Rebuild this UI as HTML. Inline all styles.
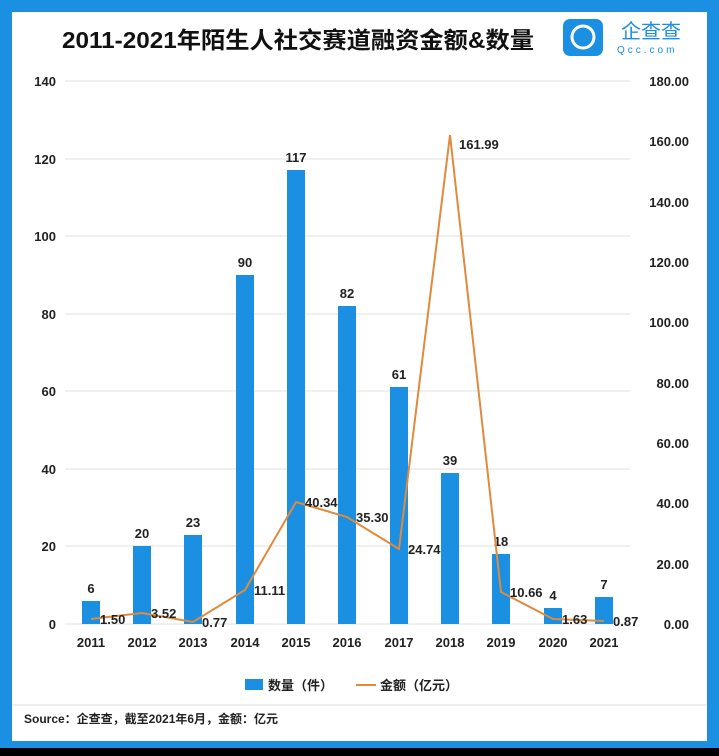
<!DOCTYPE html>
<html><head><meta charset="utf-8"><style>
body{margin:0;width:719px;height:751px;overflow:hidden;background:#000}
svg text{font-family:"Liberation Sans","Noto Sans CJK SC",sans-serif}
</style></head><body>
<svg width="719" height="751" xmlns="http://www.w3.org/2000/svg">
<rect x="0" y="0" width="719" height="748" fill="#1b8fe2"/>
<rect x="12" y="12" width="695" height="729" fill="#fff"/>
<line x1="12" y1="705" x2="707" y2="705" stroke="#ddd"/>
<text x="298" y="48" font-size="23" font-weight="bold" text-anchor="middle" fill="#111" textLength="472" lengthAdjust="spacingAndGlyphs">2011-2021年陌生人社交赛道融资金额&amp;数量</text>
<rect x="563" y="19" width="40" height="37" rx="7" fill="#1b8fe2"/>
<circle cx="583" cy="37" r="11" fill="none" stroke="#fff" stroke-width="3"/>
<text x="621" y="38" font-size="20" fill="#1b8fe2">企查查</text>
<text x="617" y="53" font-size="10" fill="#1b8fe2" letter-spacing="3">Qcc.com</text>
<g stroke="#e2e2e2" stroke-width="1">
<line x1="65" y1="81" x2="630" y2="81"/><line x1="65" y1="159" x2="630" y2="159"/><line x1="65" y1="236" x2="630" y2="236"/><line x1="65" y1="314" x2="630" y2="314"/><line x1="65" y1="391" x2="630" y2="391"/><line x1="65" y1="469" x2="630" y2="469"/><line x1="65" y1="546" x2="630" y2="546"/><line x1="65" y1="624" x2="630" y2="624"/>
</g>
<g font-size="13" font-weight="bold" fill="#222" text-anchor="end">
<text x="56" y="86">140</text><text x="56" y="164">120</text><text x="56" y="241">100</text><text x="56" y="319">80</text><text x="56" y="396">60</text><text x="56" y="474">40</text><text x="56" y="551">20</text><text x="56" y="629">0</text>
</g>
<g font-size="13" font-weight="bold" fill="#222" text-anchor="end">
<text x="689" y="86">180.00</text><text x="689" y="146">160.00</text><text x="689" y="207">140.00</text><text x="689" y="267">120.00</text><text x="689" y="327">100.00</text><text x="689" y="388">80.00</text><text x="689" y="448">60.00</text><text x="689" y="508">40.00</text><text x="689" y="569">20.00</text><text x="689" y="629">0.00</text>
</g>
<g fill="#1b8fe2">
<rect x="82" y="601" width="18" height="23"/>
<rect x="133" y="546" width="18" height="78"/>
<rect x="184" y="535" width="18" height="89"/>
<rect x="236" y="275" width="18" height="349"/>
<rect x="287" y="170" width="18" height="454"/>
<rect x="338" y="306" width="18" height="318"/>
<rect x="390" y="387" width="18" height="237"/>
<rect x="441" y="473" width="18" height="151"/>
<rect x="492" y="554" width="18" height="70"/>
<rect x="544" y="608" width="18" height="16"/>
<rect x="595" y="597" width="18" height="27"/>
</g>
<g font-size="13" font-weight="bold" fill="#222" text-anchor="middle">
<text x="91" y="593">6</text><text x="142" y="538">20</text><text x="193" y="527">23</text><text x="245" y="267">90</text><text x="296" y="162">117</text><text x="347" y="298">82</text><text x="399" y="379">61</text><text x="450" y="465">39</text><text x="501" y="546">18</text><text x="553" y="600">4</text><text x="604" y="589">7</text>
</g>
<polyline fill="none" stroke="#e08a3e" stroke-width="2" points="91,619 142,613 193,622 245,590 296,502 347,517 399,549 450,135 501,592 553,619 604,621"/>
<g font-size="13" font-weight="bold" fill="#222">
<text x="100" y="624">1.50</text><text x="151" y="618">3.52</text><text x="202" y="627">0.77</text><text x="254" y="595">11.11</text><text x="305" y="507">40.34</text><text x="356" y="522">35.30</text><text x="408" y="554">24.74</text><text x="459" y="149">161.99</text><text x="510" y="597">10.66</text><text x="562" y="624">1.63</text><text x="613" y="626">0.87</text>
</g>
<g font-size="13" font-weight="bold" fill="#222" text-anchor="middle">
<text x="91" y="647">2011</text><text x="142" y="647">2012</text><text x="193" y="647">2013</text><text x="245" y="647">2014</text><text x="296" y="647">2015</text><text x="347" y="647">2016</text><text x="399" y="647">2017</text><text x="450" y="647">2018</text><text x="501" y="647">2019</text><text x="553" y="647">2020</text><text x="604" y="647">2021</text>
</g>
<rect x="245" y="679" width="18" height="11" fill="#1b8fe2"/>
<text x="268" y="690" font-size="13" font-weight="bold" fill="#222">数量（件）</text>
<line x1="356" y1="685" x2="376" y2="685" stroke="#e08a3e" stroke-width="2"/>
<text x="380" y="690" font-size="13" font-weight="bold" fill="#222">金额（亿元）</text>
<text x="24" y="723" font-size="12" font-weight="bold" fill="#222">Source：企查查，截至2021年6月，金额：亿元</text>
</svg>
</body></html>
